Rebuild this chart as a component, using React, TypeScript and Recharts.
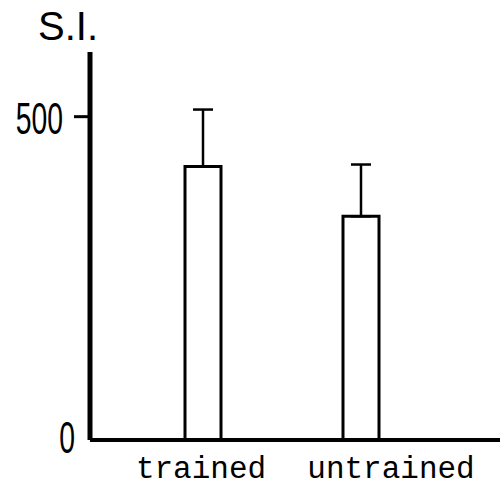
import { BarChart, Bar, XAxis, YAxis, ErrorBar } from "recharts";

// stimulation index, mean and upper error
const groups = ["trained", "untrained"];
const meanSI = [423, 346];
const errSI = [88, 80];
const yTicks = [0, 500];

const chartData = groups.map((g, i) => ({
  group: g,
  si: meanSI[i],
  err: [0, errSI[i]],
}));

// tick mark only drawn for non-zero values (0 sits on the x axis)
const YTick = (props: any) => {
  const { x, y, payload } = props;
  const isZero = payload.value === 0;
  return (
    <g>
      {!isZero && (
        <line x1={x + 2} y1={y} x2={x + 18} y2={y} stroke="#000" strokeWidth={3} />
      )}
      <g transform={`translate(${x + (isZero ? 3 : -9)},${y + (isZero ? -3 : 1)})`}>
        <text
          transform="scale(0.63,1)"
          textAnchor="end"
          dy="0.36em"
          fontFamily="Liberation Sans, Arial, sans-serif"
          fontSize={45}
          fill="#000"
        >
          {payload.value}
        </text>
      </g>
    </g>
  );
};

const XTick = (props: any) => {
  const { x, y, payload } = props;
  const shift = payload.value === "untrained" ? 30 : -2;
  return (
    <text
      x={x + shift}
      y={y + 30}
      textAnchor="middle"
      fontFamily="Liberation Mono, Courier New, monospace"
      fontSize={31}
      fill="#000"
    >
      {payload.value}
    </text>
  );
};

const AxisTitle = (props: any) => {
  const { viewBox } = props;
  const ax = viewBox.x + viewBox.width;
  return (
    <text
      x={ax - 52}
      y={viewBox.y - 12}
      fontFamily="Liberation Sans, Arial, sans-serif"
      fontSize={40}
      fill="#000"
    >
      S.I.
    </text>
  );
};

export default function App() {
  return (
    <div style={{ position: "absolute", left: 0, top: 0, background: "#fff" }}>
      <BarChart
        width={504}
        height={486}
        data={chartData}
        margin={{ top: 52, right: 4, bottom: 0, left: 0 }}
      >
        <XAxis
          dataKey="group"
          height={46}
          padding={{ left: 34, right: 60 }}
          axisLine={{ stroke: "#000", strokeWidth: 4 }}
          tickLine={false}
          tick={<XTick />}
          interval={0}
        />
        <YAxis
          width={90}
          domain={[0, 600]}
          ticks={yTicks}
          axisLine={{ stroke: "#000", strokeWidth: 5 }}
          tickLine={false}
          tickSize={16}
          tick={<YTick />}
          label={<AxisTitle />}
        />
        <Bar
          dataKey="si"
          barSize={36}
          fill="#fff"
          stroke="#000"
          strokeWidth={3}
          isAnimationActive={false}
        >
          <ErrorBar
            dataKey="err"
            width={10}
            stroke="#000"
            strokeWidth={2.5}
            direction="y"
          />
        </Bar>
      </BarChart>
    </div>
  );
}
